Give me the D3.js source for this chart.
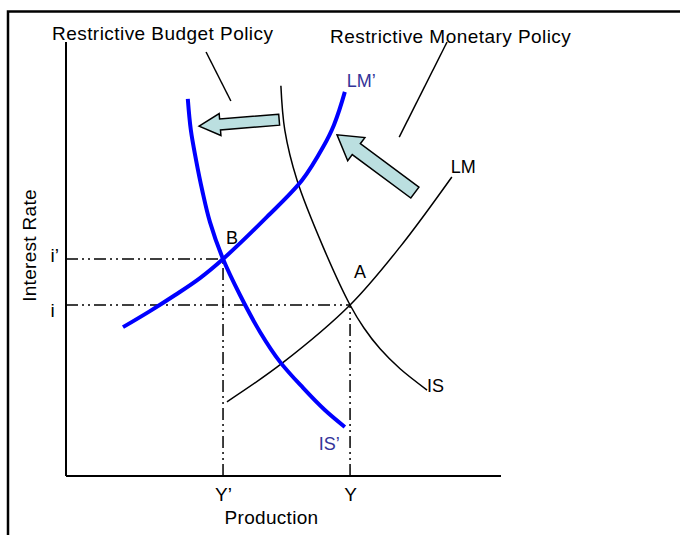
<!DOCTYPE html>
<html>
<head>
<meta charset="utf-8">
<script src="https://cdn.jsdelivr.net/npm/d3@7"></script>
<style>
  html, body { margin: 0; padding: 0; background: #fff; }
  svg { display: block; }
  text { font-family: "Liberation Sans", Arial, sans-serif; }
</style>
</head>
<body>
<script>
// ---- data (schematic units, 0..100 on both axes) ----
const isCurve  = [[49.4,89.9],[50.3,79.7],[53.1,68.2],[59.1,52.8],[65.3,39.4],[68.5,34.1],[72.2,29.3],[76.8,24.7],[83.0,19.8]];
const lmCurve  = [[37.0,17.1],[49.7,26.0],[65.3,39.4],[76.8,52.8],[88.7,68.9]];
const lmNew    = [[13.1,34.3],[19.3,38.0],[25.1,41.7],[30.8,45.6],[36.1,50.0],[46.2,59.7],[54.3,68.2],[59.1,75.8],[61.6,80.9],[64.1,88.5]];
const isNew    = [[28.0,86.9],[28.7,79.7],[29.9,72.8],[31.3,65.9],[33.1,58.5],[36.1,50.0],[40.0,41.7],[44.6,33.2],[49.2,26.3],[54.5,20.3],[59.5,15.2],[64.1,11.3]];
const pointA   = [65.3, 39.4];
const pointB   = [36.1, 50.0];
const xTickValues = [36.1, 65.3];
const xTickLabels = ["Y\u2019", "Y"];
const yTickValues = [50.0, 39.4];
const yTickLabels = ["i\u2019", "i"];
const shiftArrows = [[[49.0,82.1],[30.6,80.6]], [[80.2,65.3],[62.3,78.6]]];
const leaderLines = [[[32.2,97.7],[37.9,86.4]], [[87.6,100],[76.6,78.1]]];
const titles = ["Restrictive Budget Policy", "Restrictive Monetary Policy"];

const W = 680, H = 535;
const svg = d3.select("body").append("svg").attr("width", W).attr("height", H);

const x = d3.scaleLinear().domain([0, 100]).range([66, 501]);
const y = d3.scaleLinear().domain([0, 100]).range([476, 42]);

// frame
svg.append("path").attr("d", `M8,${H} V11.5 H${W}`)
  .attr("fill", "none").attr("stroke", "#000").attr("stroke-width", 2.5);

// axes
const xAxis = d3.axisBottom(x).tickValues(xTickValues)
  .tickFormat((d, i) => xTickLabels[i]).tickSize(0).tickPadding(12);
const gx = svg.append("g").attr("transform", `translate(0,${y(0)})`).call(xAxis);
gx.select(".domain").attr("stroke", "#000").attr("stroke-width", 2).attr("d", `M${x(0)},0H${x(100)}`);
gx.selectAll("text").attr("font-size", 19).attr("fill", "#000")
  .attr("font-family", "Liberation Sans, Arial, sans-serif");

const yAxis = d3.axisLeft(y).tickValues(yTickValues)
  .tickFormat((d, i) => yTickLabels[i]).tickSize(0);
const gy = svg.append("g").attr("transform", `translate(${x(0)},0)`).call(yAxis);
gy.select(".domain").attr("stroke", "#000").attr("stroke-width", 2).attr("d", `M0,${y(100)}V${y(0)}`);
gy.selectAll("text").attr("font-size", 19).attr("fill", "#000")
  .attr("font-family", "Liberation Sans, Arial, sans-serif")
  .attr("text-anchor", "start").attr("x", -15.5).attr("dy", null)
  .attr("y", (d, i) => i === 0 ? 2 : 11);

// guide lines (dash-dot-dot)
const dash = "12,4,2,4,2,4";
const guides = [
  [[0, pointB[1]], pointB], [[pointB[0], 0], pointB],
  [[0, pointA[1]], pointA], [[pointA[0], 0], pointA]
];
svg.append("g").selectAll("line").data(guides).join("line")
  .attr("x1", d => x(d[0][0])).attr("y1", d => y(d[0][1]))
  .attr("x2", d => x(d[1][0])).attr("y2", d => y(d[1][1]))
  .attr("stroke", "#000").attr("stroke-width", 1.5).attr("stroke-dasharray", dash);

// curves
const line = d3.line().x(d => x(d[0])).y(d => y(d[1])).curve(d3.curveCatmullRom.alpha(0.5));
const curves = [
  {pts: isCurve, color: "#000", w: 1.5},
  {pts: lmCurve, color: "#000", w: 1.5},
  {pts: lmNew, color: "#0000ff", w: 4},
  {pts: isNew, color: "#0000ff", w: 4}
];
svg.append("g").selectAll("path").data(curves).join("path")
  .attr("d", d => line(d.pts)).attr("fill", "none")
  .attr("stroke", d => d.color).attr("stroke-width", d => d.w);

// leader lines
svg.append("g").selectAll("line").data(leaderLines).join("line")
  .attr("x1", d => x(d[0][0])).attr("y1", d => y(d[0][1]))
  .attr("x2", d => x(d[1][0])).attr("y2", d => y(d[1][1]))
  .attr("stroke", "#000").attr("stroke-width", 1.5);

// block arrows
const arrowDims = [{s: 5.5, h: 11, L: 21}, {s: 6.8, h: 14.4, L: 24}];
function arrowPoly(a, dims) {
  const T = [x(a[0][0]), y(a[0][1])], P = [x(a[1][0]), y(a[1][1])];
  const len = Math.hypot(P[0] - T[0], P[1] - T[1]);
  const dx = (P[0] - T[0]) / len, dy = (P[1] - T[1]) / len;
  const nx = -dy, ny = dx;
  const B = [P[0] - dx * dims.L, P[1] - dy * dims.L];
  const pts = [
    [T[0] + nx * dims.s, T[1] + ny * dims.s],
    [B[0] + nx * dims.s, B[1] + ny * dims.s],
    [B[0] + nx * dims.h, B[1] + ny * dims.h],
    P,
    [B[0] - nx * dims.h, B[1] - ny * dims.h],
    [B[0] - nx * dims.s, B[1] - ny * dims.s],
    [T[0] - nx * dims.s, T[1] - ny * dims.s]
  ];
  return "M" + pts.map(p => p.join(",")).join("L") + "Z";
}
svg.append("g").selectAll("path").data(shiftArrows).join("path")
  .attr("d", (d, i) => arrowPoly(d, arrowDims[i]))
  .attr("fill", "#bbdfe0").attr("stroke", "#000").attr("stroke-width", 1.5)
  .attr("stroke-linejoin", "miter");

// titles
svg.append("text").attr("x", 52).attr("y", 40).attr("font-size", 19)
  .attr("letter-spacing", 0.45).text(titles[0]);
svg.append("text").attr("x", 330).attr("y", 43).attr("font-size", 19)
  .attr("letter-spacing", 0.45).text(titles[1]);

// axis titles
svg.append("text").attr("x", 271.5).attr("y", 524).attr("font-size", 19)
  .attr("text-anchor", "middle").attr("letter-spacing", 0.3).text("Production");
svg.append("text").attr("transform", "translate(36,245.5) rotate(-90)")
  .attr("font-size", 19).attr("text-anchor", "middle").attr("letter-spacing", 0.3)
  .text("Interest Rate");

// curve / point labels
const labels = [
  {t: "A", px: x(pointA[0]) + 10, py: y(pointA[1]) - 27, c: "#000", a: "middle"},
  {t: "B", px: x(pointB[0]) + 9, py: y(pointB[1]) - 15, c: "#000", a: "middle"},
  {t: "LM", px: x(lmCurve[4][0]) - 1, py: y(lmCurve[4][1]) - 4, c: "#000", a: "start"},
  {t: "IS", px: x(isCurve[8][0]), py: y(isCurve[8][1]) + 2, c: "#000", a: "start"},
  {t: "LM\u2019", px: x(lmNew[9][0]) + 2, py: y(lmNew[9][1]) - 5, c: "#333399", a: "start"},
  {t: "IS\u2019", px: x(isNew[11][0]) - 26, py: y(isNew[11][1]) + 23, c: "#333399", a: "start"}
];
svg.append("g").selectAll("text").data(labels).join("text")
  .attr("x", d => d.px).attr("y", d => d.py).attr("fill", d => d.c)
  .attr("text-anchor", d => d.a).attr("font-size", 18).text(d => d.t);
</script>
</body>
</html>
